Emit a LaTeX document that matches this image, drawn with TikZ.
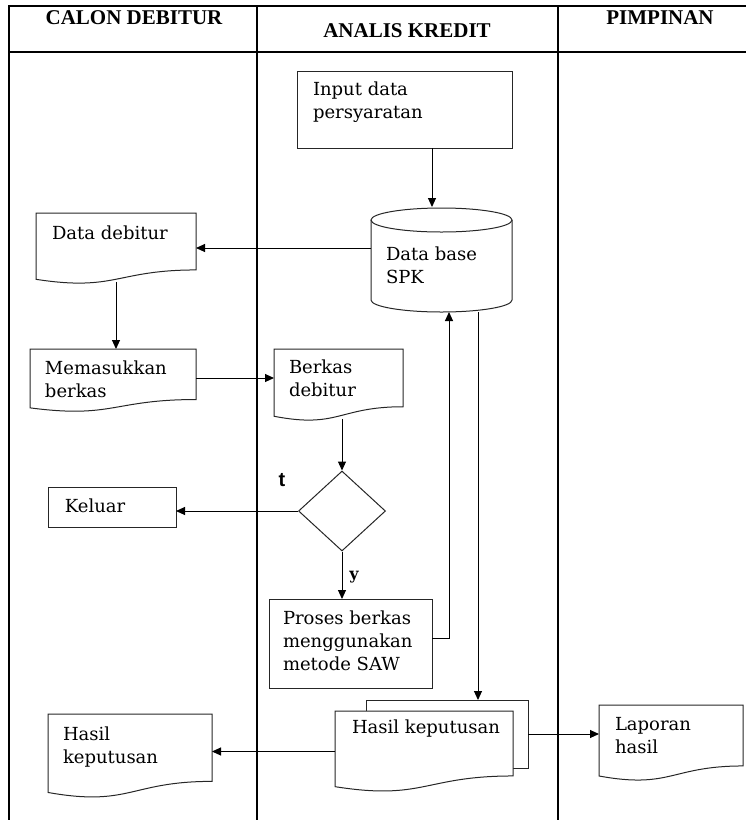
\documentclass[tikz,border=0pt]{standalone}
\usepackage{fontspec}
\setmainfont{DejaVu Serif}
\newfontfamily\headfont{Liberation Serif}
\newfontfamily\lblfont{Liberation Sans}
\usetikzlibrary{arrows.meta,calc,shapes.geometric}
\pgfdeclarelayer{back}
\pgfdeclarelayer{mid}
\pgfsetlayers{back,mid,main}
\newcommand\boxtext[5]{\parbox[c][#2][t]{#1}{\raggedright\leftskip=#3\relax\rule{0pt}{#4}#5}}
\newcommand\docoutline[2][]{%
  \draw[shp,#1] (#2.north west) -- (#2.north east) -- ($(#2.north east)!0.802!(#2.south east)$)
   .. controls ($(#2.north)!0.802!(#2.south)$) and ($(#2.north)!1.1075!(#2.south)$) ..
   ($(#2.north west)!0.934!(#2.south west)$) -- cycle;}
\tikzset{
  shp/.style={draw=black!85, line width=1pt},
  frame/.style={draw=black, line width=1.4pt},
  boxn/.style={inner sep=0pt, outer sep=0pt, anchor=north west, font=\fontsize{18}{23}\selectfont},
  flow/.style={draw=black, line width=1pt, -{Triangle[length=9pt,width=8pt]}},
  head/.style={anchor=base, font=\headfont\bfseries\fontsize{21}{21}\selectfont}
}
\begin{document}
\begin{tikzpicture}[x=1pt,y=-1pt]
\useasboundingbox (0,0) rectangle (746,820);
% frame
\draw[frame] (9,820) -- (9,6) -- (746,6);
\draw[frame] (9,52) -- (746,52);
\draw[frame] (257,6) -- (257,820);
\draw[frame] (558,6) -- (558,820);
\node[head] (h1) at (134,24) {CALON DEBITUR};
\node[head] (h2) at (407,37) {ANALIS KREDIT};
\node[head] (h3) at (660,24) {PIMPINAN};
% nodes
\node[boxn, shp] (input) at (297,71) {\boxtext{215pt}{77pt}{16pt}{24pt}{Input data\\persyaratan}};
\node[boxn] (db) at (371,207) {\boxtext{141pt}{105pt}{15pt}{53pt}{Data base\\SPK}};
\draw[shp] (441.5,220) ellipse [x radius=70.5, y radius=12];
\draw[shp] (371,220) -- (371,300) .. controls (371,306.6) and (402.6,312) .. (441.5,312)
  .. controls (480.4,312) and (512,306.6) .. (512,300) -- (512,220);
\node[boxn] (ddeb) at (36,213) {\boxtext{160pt}{71pt}{16pt}{26pt}{Data debitur}};
\docoutline{ddeb}
\node[boxn] (mem) at (30,349) {\boxtext{166pt}{63pt}{15pt}{25pt}{Memasukkan\\berkas}};
\docoutline{mem}
\node[boxn] (bdeb) at (274,349) {\boxtext{129pt}{72pt}{15pt}{24pt}{Berkas\\debitur}};
\docoutline{bdeb}
\node[diamond, shp, inner sep=0pt, minimum width=87pt, minimum height=80pt] (dia) at (342,511) {};
\node[boxn, shp] (kel) at (48,487) {\boxtext{128pt}{40pt}{17pt}{25pt}{Keluar}};
\node[boxn, shp] (proses) at (269,599) {\boxtext{163pt}{89pt}{14pt}{25pt}{Proses berkas\\menggunakan\\metode SAW}};
\node[anchor=center, inner sep=0pt, font=\lblfont\bfseries\fontsize{20}{20}\selectfont] (lt) at (282,480) {t};
\node[anchor=center, inner sep=0pt, font=\bfseries\fontsize{16}{16}\selectfont] (ly) at (354,577) {y};
% multi document
\node[boxn, minimum width=162pt, minimum height=68pt] (hkb) at (366,700) {};
\begin{pgfonlayer}{back}
\draw[shp] (hkb.north west) rectangle (hkb.south east);
\end{pgfonlayer}
\node[boxn] (hkf) at (335,711) {\boxtext{178pt}{81pt}{17pt}{22pt}{Hasil keputusan}};
\begin{pgfonlayer}{mid}
\docoutline[fill=white]{hkf}
\end{pgfonlayer}
\node[boxn] (hasil) at (48,714) {\boxtext{164pt}{84pt}{15pt}{26pt}{Hasil\\keputusan}};
\docoutline{hasil}
\node[boxn] (lap) at (599,705) {\boxtext{144pt}{76pt}{16pt}{25pt}{Laporan\\hasil}};
\docoutline{lap}
% connectors
\coordinate (ddebbot) at ($(ddeb.north)!0.97!(ddeb.south)$);
\coordinate (bdebbot) at ($(bdeb.north)!0.97!(bdeb.south)$);
\draw[flow] ([xshift=27.5pt]input.south) -- ([xshift=27.5pt]input.south |- db.north);
\draw[flow] ([yshift=11.5pt]db.west) -- ([yshift=11.5pt]db.west -| ddeb.east);
\draw[flow] (ddebbot) -- (ddebbot |- mem.north);
\draw[flow] ([yshift=2.5pt]mem.east) -- ([yshift=2.5pt]mem.east -| bdeb.west);
\draw[flow] (bdebbot -| dia.north) -- (dia.north);
\draw[flow] (dia.west) -- (dia.west -| kel.east);
\draw[flow] (dia.south) -- (dia.south |- proses.north);
\draw[flow] ([yshift=5.5pt]proses.east) -| ([xshift=7.5pt]db.south);
\draw[flow] ([xshift=36.5pt]db.south) -- ([xshift=36.5pt]db.south |- hkb.north);
\draw[flow] (hkf.west) -- (hkf.west -| hasil.east);
\draw[flow] (hkb.east) -- (hkb.east -| lap.west);
\end{tikzpicture}
\end{document}
